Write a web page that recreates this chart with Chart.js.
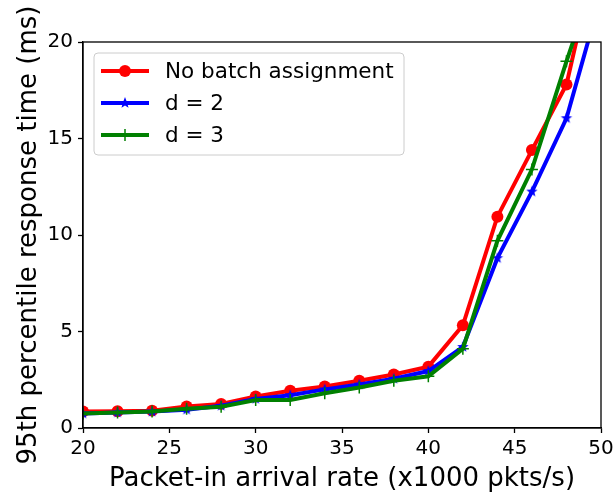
<!DOCTYPE html>
<html>
<head>
<meta charset="utf-8">
<script src="https://cdn.jsdelivr.net/npm/chart.js@4.4.0/dist/chart.umd.min.js"></script>
<style>
  html, body { margin: 0; padding: 0; background: #fff; }
  #wrap { width: 615px; height: 494px; }
</style>
</head>
<body>
<div id="wrap"><canvas id="rtChart" width="615" height="494"></canvas></div>
<script>
// packet-in arrival rate (x1000 pkts/s)
let rates = [20, 22, 24, 26, 28, 30, 32, 34, 36, 38, 40, 42, 44, 46, 48, 50];
// 95th percentile response time (ms)
let noBatch = [0.85, 0.87, 0.9, 1.12, 1.25, 1.63, 1.93, 2.15, 2.45, 2.77, 3.18, 5.32, 10.95, 14.4, 17.8, 25.6];
let batchD2 = [0.75, 0.8, 0.85, 0.95, 1.15, 1.5, 1.7, 2.0, 2.25, 2.55, 2.95, 4.2, 8.8, 12.25, 16.05, 22.4];
let batchD3 = [0.75, 0.8, 0.85, 1.0, 1.1, 1.45, 1.45, 1.8, 2.1, 2.45, 2.68, 4.1, 9.7, 13.4, 19.0, 24.3];
let xTicks = [20, 25, 30, 35, 40, 45, 50];
let yTicks = [0, 5, 10, 15, 20];
let seriesNames = ['No batch assignment', 'd = 2', 'd = 3'];

let FONT = "'DejaVu Sans', sans-serif";

function toPoints(values){
    let pts = [];
    for(let i = 0; i < rates.length; i++){
        pts.push({x: rates[i], y: values[i]});
    }
    return pts;
}

// filled five point star, like matplotlib's '*'
function makeStar(color, outer){
    let size = Math.ceil(outer * 2 + 2);
    let c = document.createElement('canvas');
    c.width = size;
    c.height = size;
    let g = c.getContext('2d');
    let cx = size / 2, cy = size / 2;
    let inner = outer * 0.42;
    g.beginPath();
    for(let i = 0; i < 10; i++){
        let r = i % 2 === 0 ? outer : inner;
        let a = -Math.PI / 2 + i * Math.PI / 5;
        let px = cx + r * Math.cos(a);
        let py = cy + r * Math.sin(a);
        if(i === 0) g.moveTo(px, py); else g.lineTo(px, py);
    }
    g.closePath();
    g.fillStyle = color;
    g.fill();
    return c;
}

let blueStar = makeStar('#0000ff', 6);

// frame, axis titles and the legend box on top of the plot
let decorPlugin = {
    id: 'decor',
    afterDraw(chart){
        let ctx = chart.ctx;
        let a = chart.chartArea;
        ctx.save();
        ctx.strokeStyle = '#000';
        ctx.lineWidth = 1.3;
        ctx.strokeRect(a.left, a.top, a.right - a.left, a.bottom - a.top);

        ctx.fillStyle = '#000';
        ctx.font = '26px ' + FONT;
        ctx.textAlign = 'center';
        ctx.textBaseline = 'alphabetic';
        ctx.fillText('Packet-in arrival rate (x1000 pkts/s)', (a.left + a.right) / 2, 486);

        ctx.save();
        ctx.translate(36, (a.top + a.bottom) / 2);
        ctx.rotate(-Math.PI / 2);
        ctx.fillText('95th percentile response time (ms)', 0, 0);
        ctx.restore();

        // legend
        let bx = 94, by = 53, bw = 310, bh = 102;
        ctx.beginPath();
        ctx.roundRect(bx, by, bw, bh, 4);
        ctx.fillStyle = 'rgba(255,255,255,0.8)';
        ctx.fill();
        ctx.strokeStyle = '#cccccc';
        ctx.lineWidth = 1;
        ctx.stroke();

        let rows = [71, 103, 135];
        let ds = chart.data.datasets;
        ctx.font = '21.5px ' + FONT;
        ctx.textAlign = 'left';
        ctx.textBaseline = 'middle';
        for(let i = 0; i < ds.length; i++){
            let y = rows[i];
            ctx.beginPath();
            ctx.moveTo(101, y);
            ctx.lineTo(149, y);
            ctx.strokeStyle = ds[i].borderColor;
            ctx.lineWidth = 4;
            ctx.stroke();
            if(i === 0){
                ctx.beginPath();
                ctx.arc(125, y, 6, 0, Math.PI * 2);
                ctx.fillStyle = ds[i].borderColor;
                ctx.fill();
            }else if(i === 1){
                ctx.drawImage(blueStar, 125 - blueStar.width / 2, y - blueStar.height / 2);
            }else{
                ctx.beginPath();
                ctx.moveTo(125, y - 6);
                ctx.lineTo(125, y + 6);
                ctx.strokeStyle = ds[i].borderColor;
                ctx.lineWidth = 1.5;
                ctx.stroke();
            }
            ctx.fillStyle = '#000';
            ctx.fillText(seriesNames[i], 165, y + 1);
        }
        ctx.restore();
    }
};

let ctx = document.getElementById('rtChart');
let chart = new Chart(ctx, {
    type: 'line',
    data: {
        datasets: [{
            label: seriesNames[0],
            data: toPoints(noBatch),
            borderColor: '#ff0000',
            backgroundColor: '#ff0000',
            borderWidth: 4,
            pointStyle: 'circle',
            pointRadius: 6,
            pointBorderWidth: 0,
            order: 3
        }, {
            label: seriesNames[1],
            data: toPoints(batchD2),
            borderColor: '#0000ff',
            backgroundColor: '#0000ff',
            borderWidth: 4,
            pointStyle: blueStar,
            order: 2
        }, {
            label: seriesNames[2],
            data: toPoints(batchD3),
            borderColor: '#008000',
            backgroundColor: '#008000',
            borderWidth: 4,
            pointStyle: 'cross',
            pointRadius: 6,
            pointBorderWidth: 1.5,
            order: 1
        }]
    },
    options: {
        responsive: false,
        animation: false,
        devicePixelRatio: 1,
        clip: 0,
        layout: { padding: { top: 42, right: 14, left: 0, bottom: 0 } },
        elements: { line: { tension: 0, fill: false } },
        plugins: {
            legend: { display: false },
            tooltip: { enabled: false }
        },
        scales: {
            x: {
                type: 'linear',
                min: 20,
                max: 50,
                afterFit: function(scale){ scale.height = 66; scale.paddingRight = 0; scale.paddingLeft = 0; },
                afterBuildTicks: function(scale){ scale.ticks = xTicks.map(v => ({value: v})); },
                grid: { drawOnChartArea: false, tickLength: 5, color: '#000', tickWidth: 1.3 },
                border: { display: true, color: '#000', width: 1.3 },
                ticks: { color: '#000', font: { family: FONT, size: 20 }, padding: 4, maxRotation: 0 }
            },
            y: {
                min: 0,
                max: 20,
                afterFit: function(scale){ scale.width = 83; scale.paddingTop = 0; scale.paddingBottom = 0; },
                afterBuildTicks: function(scale){ scale.ticks = yTicks.map(v => ({value: v})); },
                grid: { drawOnChartArea: false, tickLength: 5, color: '#000', tickWidth: 1.3 },
                border: { display: true, color: '#000', width: 1.3 },
                ticks: { color: '#000', font: { family: FONT, size: 20 }, padding: 5 }
            }
        }
    },
    plugins: [decorPlugin]
});
console.log(JSON.stringify(chart.chartArea));
</script>
</body>
</html>
